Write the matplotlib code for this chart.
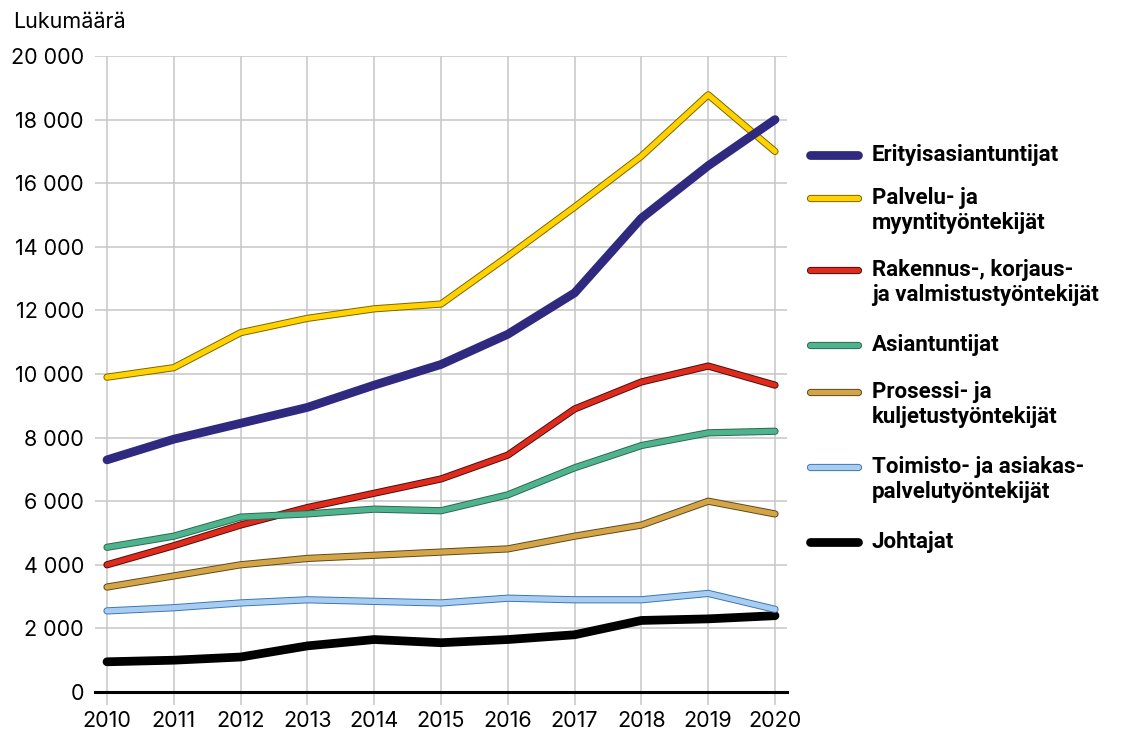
import matplotlib
matplotlib.use("Agg")
import matplotlib.pyplot as plt
import matplotlib.patheffects as pe
from matplotlib.ticker import FuncFormatter

plt.rcParams['font.family'] = ['Inter', 'DejaVu Sans']

years = [2010, 2011, 2012, 2013, 2014, 2015, 2016, 2017, 2018, 2019, 2020]

erityisasiantuntijat = [7300, 7950, 8450, 8950, 9650, 10300, 11250, 12550, 14900, 16550, 18000]
palvelu = [9900, 10200, 11300, 11750, 12050, 12200, 13700, 15250, 16850, 18780, 17000]
rakennus = [4000, 4600, 5250, 5800, 6250, 6700, 7450, 8900, 9750, 10250, 9650]
asiantuntijat = [4550, 4900, 5500, 5600, 5750, 5700, 6200, 7050, 7750, 8150, 8200]
prosessi = [3300, 3650, 4000, 4200, 4300, 4400, 4500, 4900, 5250, 6000, 5600]
toimisto = [2550, 2650, 2800, 2900, 2850, 2800, 2950, 2900, 2900, 3100, 2600]
johtajat = [950, 1000, 1100, 1450, 1650, 1550, 1650, 1800, 2250, 2300, 2400]

labels = ["Erityisasiantuntijat", "Palvelu- ja\nmyyntityöntekijät",
          "Rakennus-, korjaus-\nja valmistustyöntekijät", "Asiantuntijat",
          "Prosessi- ja\nkuljetustyöntekijät", "Toimisto- ja asiakas-\npalvelutyöntekijät",
          "Johtajat"]

series = [erityisasiantuntijat, palvelu, rakennus, asiantuntijat, prosessi, toimisto, johtajat]
fills = ["#2f2a7f", "#ffd200", "#e02a1c", "#4fb38d", "#d3a547", "#a9cdf0", "#000000"]
edges = [None, "#7d6400", "#4a0f0f", "#2c6a52", "#5e4820", "#3b76b3", None]
zorders = [9, 8, 6, 7, 5, 4, 3]

W, H = 1139, 734
fig = plt.figure(figsize=(W / 100, H / 100), dpi=100)
x0, x1, ytop, ybot = 95, 787, 56, 692
ax = fig.add_axes([x0 / W, 1 - ybot / H, (x1 - x0) / W, (ybot - ytop) / H])

ax.set_xlim(2010 - 12 / 66.8, 2020 + 12 / 66.8)
ax.set_ylim(0, 20000)
ax.set_xticks(years)
ax.set_yticks(range(0, 20001, 2000))
ax.yaxis.set_major_formatter(FuncFormatter(lambda v, p: f"{int(v):,}".replace(",", " ")))
ax.grid(True, color="#c6c6c6", linewidth=1.1)
ax.set_axisbelow(True)
for s in ["top", "right", "left"]:
    ax.spines[s].set_visible(False)
ax.spines["bottom"].set_linewidth(2.2)
ax.spines["bottom"].set_color("black")
ax.spines["bottom"].set_zorder(2.5)
ax.tick_params(axis="x", length=9.5, width=1.1, color="#c6c6c6", labelsize=15.5, pad=4)
ax.tick_params(axis="y", length=0, labelsize=15.5, pad=8)


def style(fill, edge):
    if edge is None:
        return dict(color=fill, lw=6.3, solid_capstyle="round", solid_joinstyle="round"), None
    return (dict(color=fill, lw=3.8, solid_capstyle="round", solid_joinstyle="round"),
            [pe.Stroke(linewidth=5.2, foreground=edge, capstyle="round", joinstyle="round"), pe.Normal()])


for vals, fc, ec, z in zip(series, fills, edges, zorders):
    kw, eff = style(fc, ec)
    ln, = ax.plot(years, vals, zorder=z, **kw)
    if eff:
        ln.set_path_effects(eff)

fig.text(13 / W, 1 - 22 / H, "Lukumäärä", fontsize=15.5, va="center", ha="left")

# legend in pixel coordinates
lax = fig.add_axes([0, 0, 1, 1])
lax.set_xlim(0, W)
lax.set_ylim(H, 0)
lax.axis("off")
ys = [155, 198, 270, 345, 392, 467, 542]
for lab, fc, ec, y in zip(labels, fills, edges, ys):
    kw, eff = style(fc, ec)
    ln, = lax.plot([810, 858], [y, y], **kw)
    if eff:
        ln.set_path_effects(eff)
    lax.text(872, y - 11, lab, fontsize=16, fontweight="bold", va="top", ha="left",
             linespacing=1.2, family=["Roboto", "DejaVu Sans"])

fig.savefig("out.png", dpi=100)
